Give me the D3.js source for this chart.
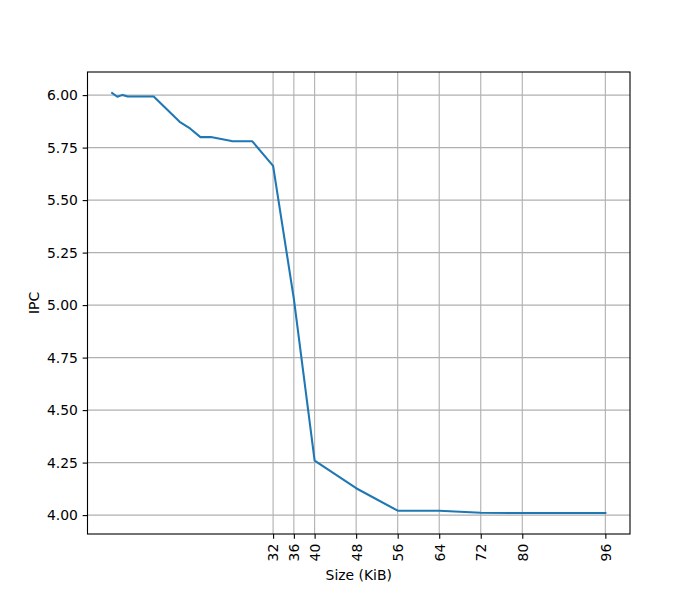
<!DOCTYPE html>
<html><head><meta charset="utf-8">
<script src="https://cdn.jsdelivr.net/npm/d3@7"></script>
<style>body{margin:0;background:#fff}svg{display:block}text{font-family:"DejaVu Sans",sans-serif}</style>
</head><body><svg id="c" width="700" height="600"></svg>
<script>
const sizes = [1, 2, 3, 4, 9, 14, 16, 18, 20, 24, 28, 32, 36, 40, 48, 56, 64, 72, 80, 96];
const ipc = [6.01, 5.992, 6.001, 5.993, 5.993, 5.873, 5.841, 5.80, 5.80, 5.781, 5.78, 5.663, 5.03, 4.259, 4.128, 4.021, 4.021, 4.011, 4.01, 4.01];
const xTicks = [32, 36, 40, 48, 56, 64, 72, 80, 96];
const yTicks = [4.00, 4.25, 4.50, 4.75, 5.00, 5.25, 5.50, 5.75, 6.00];

const svg = d3.select("#c");
const L = 87.5, R = 630, T = 72, B = 534;
const xr = d3.extent(sizes), yr = d3.extent(ipc);
const xm = (xr[1]-xr[0])*0.05, ym = (yr[1]-yr[0])*0.05;
const x = d3.scaleLinear().domain([xr[0]-xm, xr[1]+xm]).range([L, R]);
const y = d3.scaleLinear().domain([yr[0]-ym, yr[1]+ym]).range([B, T]);

// grid
const g = svg.append("g");
g.selectAll(".gx").data(xTicks).join("line")
  .attr("x1", d => x(d)).attr("x2", d => x(d)).attr("y1", T).attr("y2", B)
  .attr("stroke", "#b0b0b0").attr("stroke-width", 1.1);
g.selectAll(".gy").data(yTicks).join("line")
  .attr("y1", d => y(d)).attr("y2", d => y(d)).attr("x1", L).attr("x2", R)
  .attr("stroke", "#b0b0b0").attr("stroke-width", 1.1);

// line
svg.append("path").datum(sizes.map((s, i) => [s, ipc[i]]))
  .attr("fill", "none").attr("stroke", "#1f77b4").attr("stroke-width", 2.08)
  .attr("stroke-linecap", "square").attr("stroke-linejoin", "round")
  .attr("d", d3.line().x(d => x(d[0])).y(d => y(d[1])));

// axes
const xa = svg.append("g").attr("transform", `translate(0,${B})`)
  .call(d3.axisBottom(x).tickValues(xTicks).tickFormat(d3.format("d")).tickSizeInner(4.86).tickSizeOuter(0));
xa.selectAll("text").attr("transform", "rotate(-90)").attr("text-anchor", "end")
  .attr("x", -9.7).attr("y", 0).attr("dy", "0.35em").attr("dx", 0);
const ya = svg.append("g").attr("transform", `translate(${L},0)`)
  .call(d3.axisLeft(y).tickValues(yTicks).tickFormat(d3.format(".2f")).tickSizeInner(4.86).tickSizeOuter(0));
ya.selectAll("text").attr("x", -9.7);
[xa, ya].forEach(a => {
  a.select(".domain").remove();
  a.selectAll("line").attr("stroke", "#000").attr("stroke-width", 1.1);
  a.selectAll("text").attr("font-size", "13.9px").attr("fill", "#000").style("font-family", "DejaVu Sans");
});

// frame
svg.append("rect").attr("x", L).attr("y", T).attr("width", R - L).attr("height", B - T)
  .attr("fill", "none").attr("stroke", "#000").attr("stroke-width", 1.1);

svg.append("text").attr("x", (L + R) / 2).attr("y", 580).attr("text-anchor", "middle")
  .attr("font-size", "13.9px").text("Size (KiB)");
svg.append("text").attr("transform", `translate(39,${(T + B) / 2}) rotate(-90)`).attr("text-anchor", "middle")
  .attr("font-size", "13.9px").text("IPC");
</script></body></html>
